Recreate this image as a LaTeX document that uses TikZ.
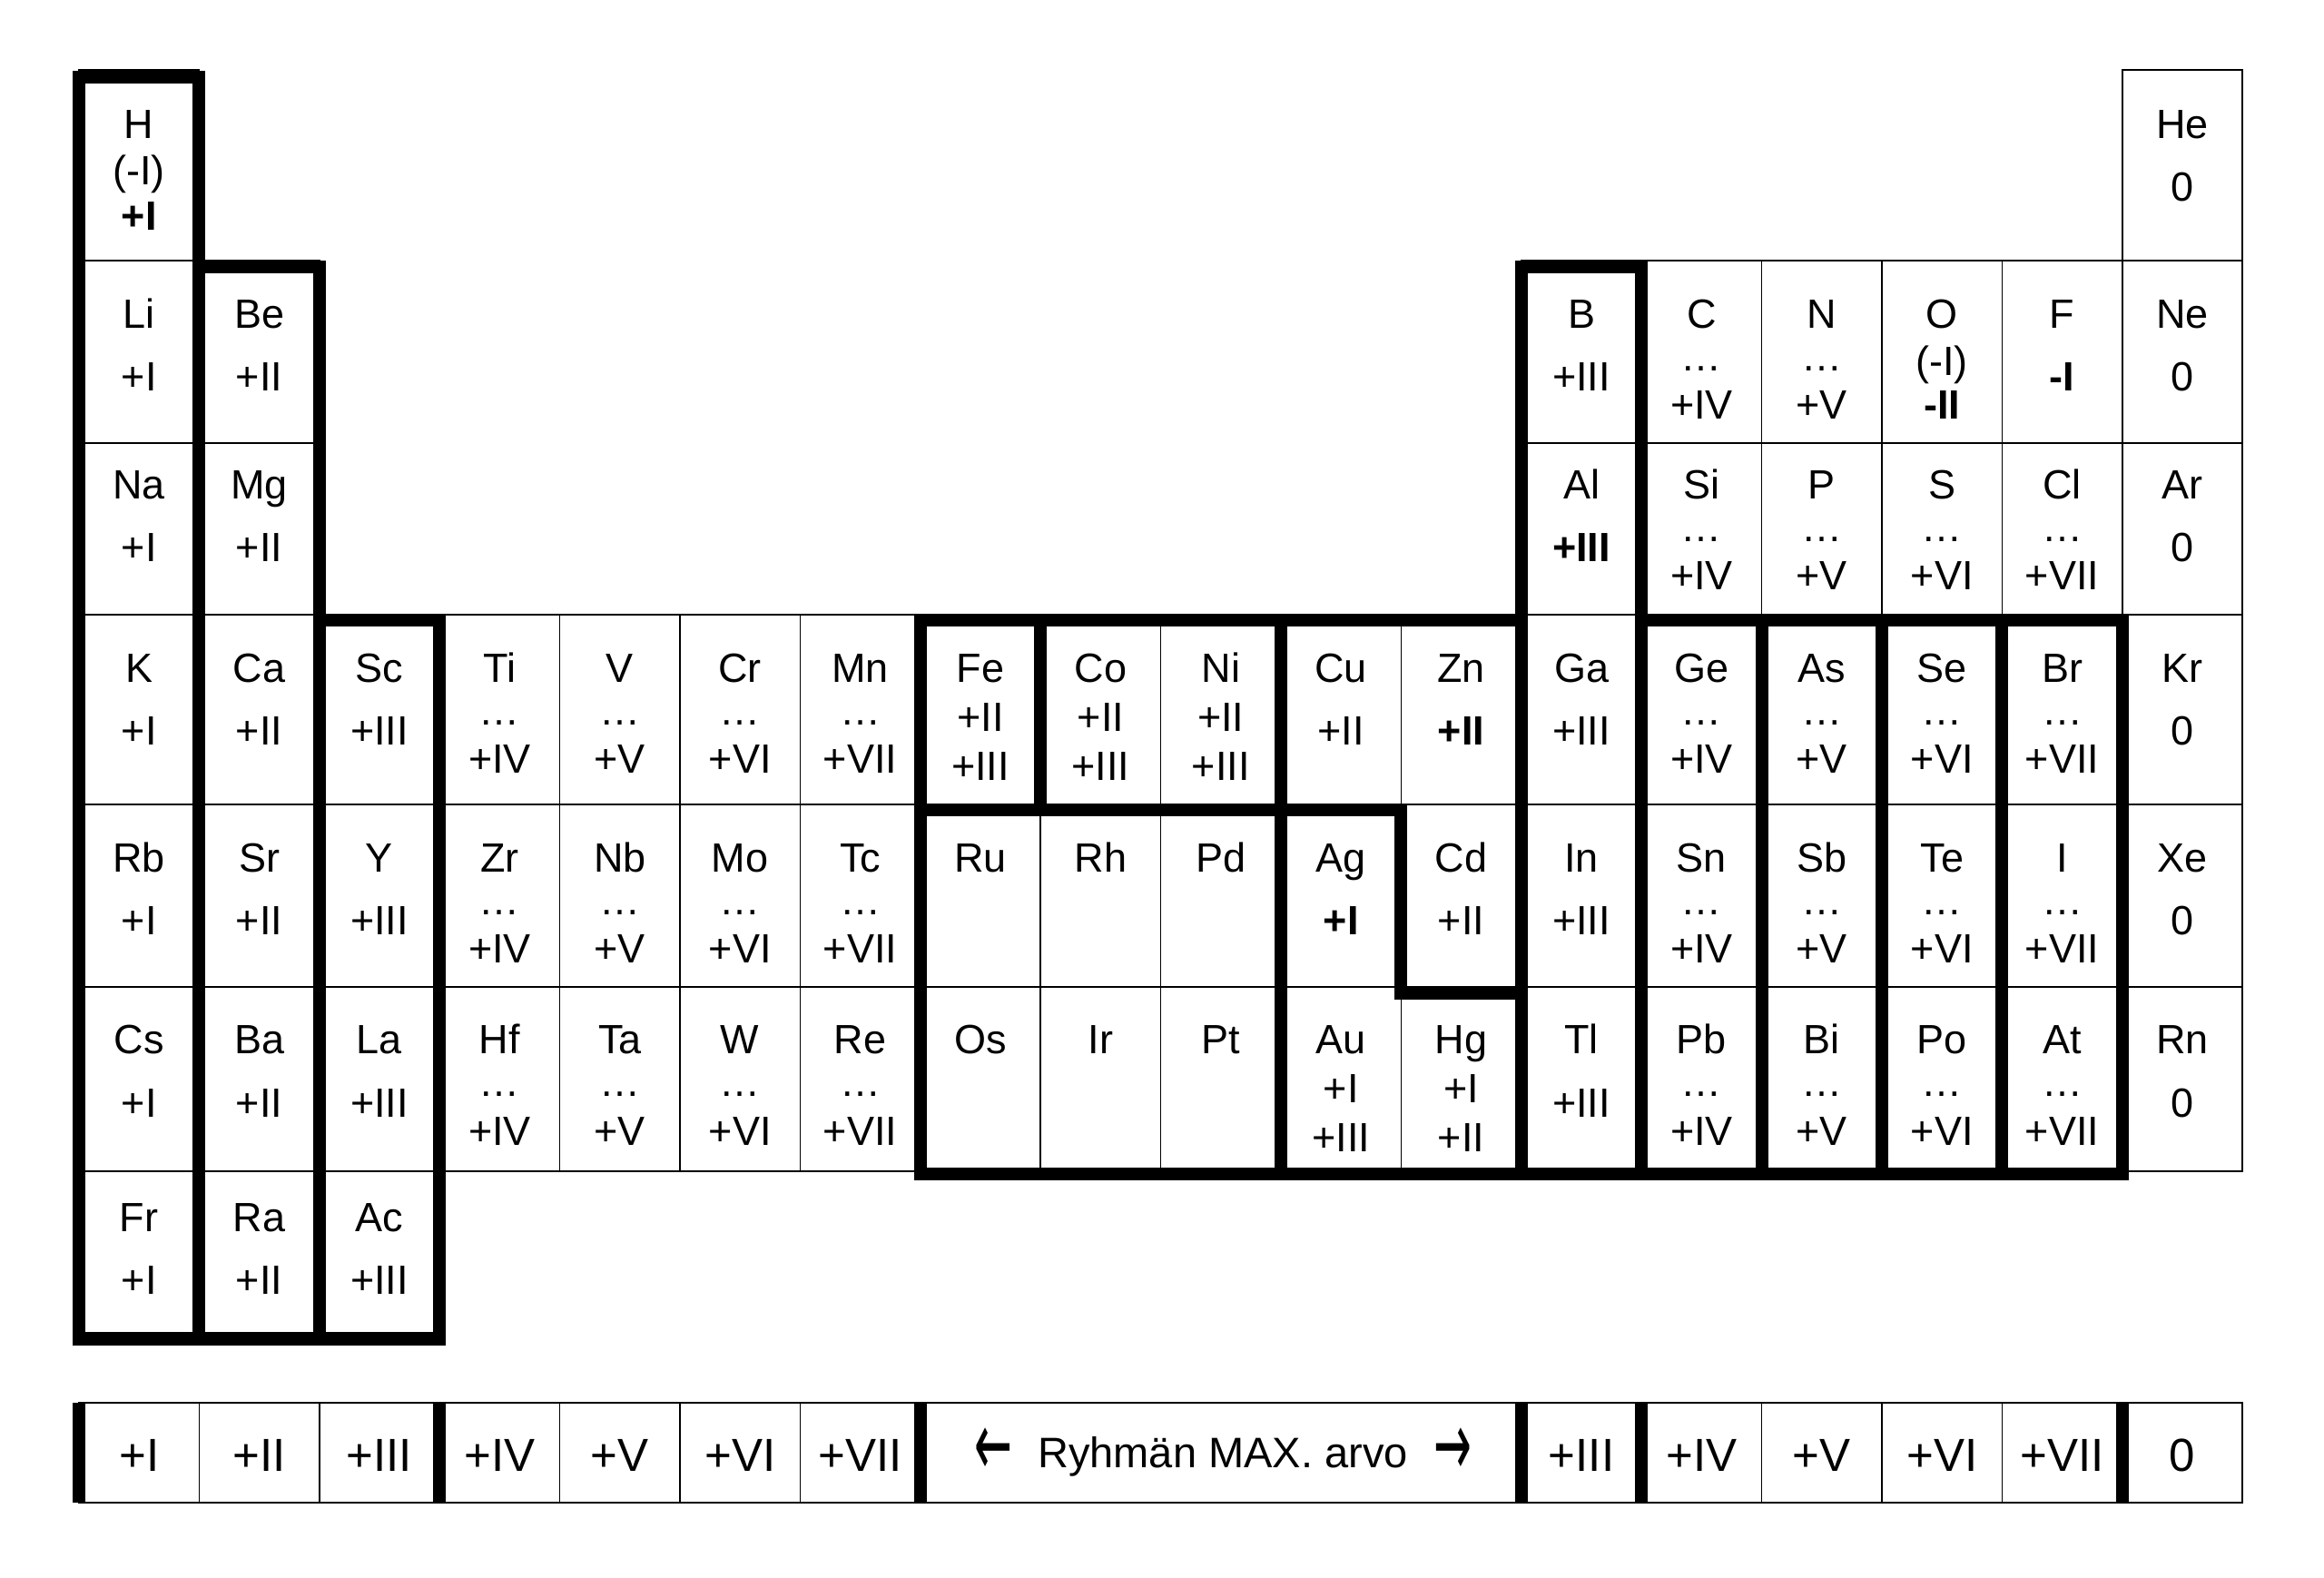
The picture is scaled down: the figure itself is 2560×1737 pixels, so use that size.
\documentclass[tikz,border=0pt]{standalone}
\usepackage{fontspec}
\usepackage{graphicx}
\setmainfont{Liberation Sans}
\newfontfamily\arrowfont{DejaVu Sans}
\def\tylist{{77,287,488,677,886,1087,1290,1468}}
\def\kylist{{84.5,294,495,683,891.5,1093.5,1293,1475}}
\def\sbase{{152,361,549,751,960,1160.5,1356}}
\newcommand\Eone[3]{%
  \pgfmathsetmacro\cx{153.2+132.4*#1}\pgfmathsetmacro\by{\sbase[#2]}%
  \node[lab] (s-#3) at (\cx,\by) {#3};}
\newcommand\Etwo[4]{%
  \pgfmathsetmacro\cx{153.2+132.4*#1}\pgfmathsetmacro\by{\sbase[#2]}%
  \node[lab] (s-#3) at (\cx,\by) {#3};
  \node[lab] (v-#3) at (\cx,\by+69.5) {#4};}
\newcommand\Ethree[4]{%
  \pgfmathsetmacro\cx{153.2+132.4*#1}\pgfmathsetmacro\by{\sbase[#2]}%
  \node[lab] (s-#3) at (\cx,\by) {#3};
  \node[lab] (d-#3) at (\cx,\by+47) {…};
  \node[lab] (v-#3) at (\cx,\by+100.5) {#4};}
\newcommand\Efour[5]{%
  \pgfmathsetmacro\cx{153.2+132.4*#1}\pgfmathsetmacro\by{\sbase[#2]}%
  \node[lab] (s-#3) at (\cx,\by) {#3};
  \node[lab] (v-#3) at (\cx,\by+54) {#4};
  \node[lab] (w-#3) at (\cx,\by+108) {#5};}
\begin{document}
\begin{tikzpicture}[x=0.3pt,y=-0.3pt]
\tikzset{
  gridline/.style={line width=0.45pt, draw=black},
  heavy/.style={line width=4.2pt, line cap=rect, line join=miter},
  heavybar/.style={line width=4.2pt, line cap=butt},
  lab/.style={anchor=base, inner sep=0pt, font=\fontsize{13.5}{16}\selectfont},
  blab/.style={anchor=base, inner sep=0pt, font=\fontsize{15.3}{18}\selectfont},
  rlab/.style={anchor=base, inner sep=0pt, font=\fontsize{14.1}{17}\selectfont},
  arrowlab/.style={anchor=center, inner sep=0pt, font=\arrowfont\fontsize{20}{20}\selectfont},
}
\useasboundingbox (0,0) rectangle (2560,1737);
\fill[white] (0,0) rectangle (2560,1737);
% grid coordinates
\foreach \c in {0,...,18}{
  \foreach \r in {0,...,7}{
    \pgfmathsetmacro\ty{\tylist[\r]}
    \pgfmathsetmacro\ky{\kylist[\r]}
    \coordinate (p-\c-\r) at ({87+132.4*\c},\ty);
    \coordinate (k-\c-\r) at ({87+132.4*\c},\ky);
  }
  \coordinate (bt-\c) at ({87+132.4*\c},1545);
  \coordinate (bb-\c) at ({87+132.4*\c},1655);
}
% thin cell borders
\foreach \c/\r in {0/0,17/0}{
  \pgfmathtruncatemacro\cc{\c+1}\pgfmathtruncatemacro\rr{\r+1}
  \draw[gridline] (p-\c-\r) rectangle (p-\cc-\rr);}
\foreach \r in {1,2}{
  \foreach \c in {0,1,12,13,14,15,16,17}{
    \pgfmathtruncatemacro\cc{\c+1}\pgfmathtruncatemacro\rr{\r+1}
    \draw[gridline] (p-\c-\r) rectangle (p-\cc-\rr);}}
\foreach \r in {3,4,5}{
  \foreach \c in {0,...,17}{
    \pgfmathtruncatemacro\cc{\c+1}\pgfmathtruncatemacro\rr{\r+1}
    \draw[gridline] (p-\c-\r) rectangle (p-\cc-\rr);}}
\foreach \c in {0,1,2}{
  \pgfmathtruncatemacro\cc{\c+1}
  \draw[gridline] (p-\c-6) rectangle (p-\cc-7);}
% heavy group outlines
\draw[heavy] (k-0-0) rectangle (k-1-7);
\draw[heavy] (k-1-1) rectangle (k-2-7);
\draw[heavy] (k-2-3) rectangle (k-3-7);
\draw[heavy] (k-7-3) -- (k-12-3);
\draw[heavy] (k-7-3) -- (k-7-6);
\draw[heavy] (k-7-6) -- (k-17-6);
\draw[heavy] (k-8-3) -- (k-8-4);
\draw[heavy] (k-7-4) -- (k-11-4);
\draw[heavy] (k-10-3) -- (k-10-6);
\draw[heavy] (k-11-4) -- (k-11-5) -- (k-12-5);
\draw[heavy] (k-12-1) -- (k-13-1);
\draw[heavy] (k-12-1) -- (k-12-6);
\draw[heavy] (k-13-1) -- (k-13-6);
\draw[heavy] (k-13-3) -- (k-17-3);
\foreach \c in {14,15,16,17}{\draw[heavy] (k-\c-3) -- (k-\c-6);}
% row 0
\Eone{0}{0}{H}
\node[lab] (v-H) at (153.2,203) {(-I)};
\node[lab] (w-H) at (153.2,253) {\textbf{+I}};
\Etwo{17}{0}{He}{0}
% row 1
\Etwo{0}{1}{Li}{+I}
\Etwo{1}{1}{Be}{+II}
\Etwo{12}{1}{B}{+III}
\Ethree{13}{1}{C}{+IV}
\Ethree{14}{1}{N}{+V}
\Eone{15}{1}{O}
\node[lab] (v-O) at (2139.2,413) {(-I)};
\node[lab] (w-O) at (2139.2,461.5) {\textbf{-II}};
\Etwo{16}{1}{F}{\textbf{-I}}
\Etwo{17}{1}{Ne}{0}
% row 2
\Etwo{0}{2}{Na}{+I}
\Etwo{1}{2}{Mg}{+II}
\Etwo{12}{2}{Al}{\textbf{+III}}
\Ethree{13}{2}{Si}{+IV}
\Ethree{14}{2}{P}{+V}
\Ethree{15}{2}{S}{+VI}
\Ethree{16}{2}{Cl}{+VII}
\Etwo{17}{2}{Ar}{0}
% row 3
\Etwo{0}{3}{K}{+I}
\Etwo{1}{3}{Ca}{+II}
\Etwo{2}{3}{Sc}{+III}
\Ethree{3}{3}{Ti}{+IV}
\Ethree{4}{3}{V}{+V}
\Ethree{5}{3}{Cr}{+VI}
\Ethree{6}{3}{Mn}{+VII}
\Efour{7}{3}{Fe}{+II}{+III}
\Efour{8}{3}{Co}{+II}{+III}
\Efour{9}{3}{Ni}{+II}{+III}
\Etwo{10}{3}{Cu}{+II}
\Etwo{11}{3}{Zn}{\textbf{+II}}
\Etwo{12}{3}{Ga}{+III}
\Ethree{13}{3}{Ge}{+IV}
\Ethree{14}{3}{As}{+V}
\Ethree{15}{3}{Se}{+VI}
\Ethree{16}{3}{Br}{+VII}
\Etwo{17}{3}{Kr}{0}
% row 4
\Etwo{0}{4}{Rb}{+I}
\Etwo{1}{4}{Sr}{+II}
\Etwo{2}{4}{Y}{+III}
\Ethree{3}{4}{Zr}{+IV}
\Ethree{4}{4}{Nb}{+V}
\Ethree{5}{4}{Mo}{+VI}
\Ethree{6}{4}{Tc}{+VII}
\Eone{7}{4}{Ru}
\Eone{8}{4}{Rh}
\Eone{9}{4}{Pd}
\Etwo{10}{4}{Ag}{\textbf{+I}}
\Etwo{11}{4}{Cd}{+II}
\Etwo{12}{4}{In}{+III}
\Ethree{13}{4}{Sn}{+IV}
\Ethree{14}{4}{Sb}{+V}
\Ethree{15}{4}{Te}{+VI}
\Ethree{16}{4}{I}{+VII}
\Etwo{17}{4}{Xe}{0}
% row 5
\Etwo{0}{5}{Cs}{+I}
\Etwo{1}{5}{Ba}{+II}
\Etwo{2}{5}{La}{+III}
\Ethree{3}{5}{Hf}{+IV}
\Ethree{4}{5}{Ta}{+V}
\Ethree{5}{5}{W}{+VI}
\Ethree{6}{5}{Re}{+VII}
\Eone{7}{5}{Os}
\Eone{8}{5}{Ir}
\Eone{9}{5}{Pt}
\Efour{10}{5}{Au}{+I}{+III}
\Efour{11}{5}{Hg}{+I}{+II}
\Etwo{12}{5}{Tl}{+III}
\Ethree{13}{5}{Pb}{+IV}
\Ethree{14}{5}{Bi}{+V}
\Ethree{15}{5}{Po}{+VI}
\Ethree{16}{5}{At}{+VII}
\Etwo{17}{5}{Rn}{0}
% row 6
\Etwo{0}{6}{Fr}{+I}
\Etwo{1}{6}{Ra}{+II}
\Etwo{2}{6}{Ac}{+III}
% bottom legend row
\draw[gridline] (bt-0) rectangle (bb-18);
\foreach \c in {1,2,4,5,6,14,15,16}{\draw[gridline] (bt-\c) -- (bb-\c);}
\foreach \c in {0,3,7,12,13,17}{\draw[heavybar] (bt-\c) -- (bb-\c);}
\foreach \c/\t in {0/+I,1/+II,2/+III,3/+IV,4/+V,5/+VI,6/+VII,12/+III,13/+IV,14/+V,15/+VI,16/+VII,17/0}{
  \node[blab] (b-\c) at ({153.2+132.4*\c},1620) {\t};}
\node[rlab] (b-label) at (1347,1616) {Ryhmän MAX. arvo};
\node[arrowlab] (b-larrow) at (1094,1599) {\scalebox{0.75}[1.5]{←}};
\node[arrowlab] (b-rarrow) at (1600,1599) {\scalebox{0.75}[1.5]{→}};
\end{tikzpicture}
\end{document}
